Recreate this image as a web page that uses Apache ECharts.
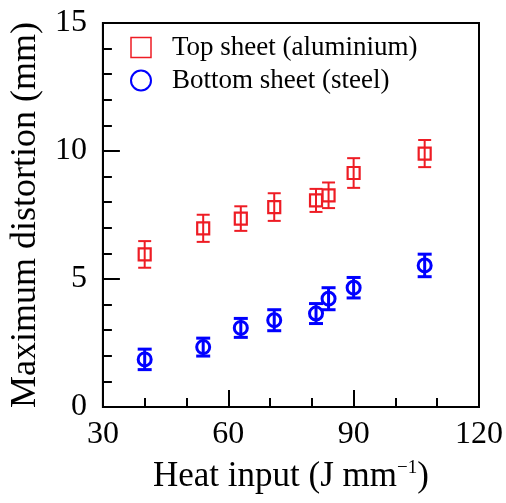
<!DOCTYPE html>
<html>
<head>
<meta charset="utf-8">
<script src="https://cdn.jsdelivr.net/npm/echarts@6/dist/echarts.min.js"></script>
<style>
  html, body { margin: 0; padding: 0; background: #fff; }
  #chart { width: 506px; height: 503px; }
</style>
</head>
<body>
<div id="chart"></div>
<script>
// Heat input (J/mm) for each weld
const heatInput = [40, 54, 63, 71, 81, 84, 90, 107];

// Maximum distortion (mm) and its +/- error, aluminium top sheet
const topSheet = [5.96, 6.98, 7.36, 7.81, 8.07, 8.27, 9.14, 9.90];
const topErr   = [0.52, 0.53, 0.48, 0.54, 0.45, 0.50, 0.58, 0.53];

// Maximum distortion (mm) and its +/- error, steel bottom sheet
const bottomSheet = [1.86, 2.34, 3.09, 3.39, 3.65, 4.23, 4.66, 5.53];
const bottomErr   = [0.40, 0.35, 0.37, 0.41, 0.39, 0.43, 0.40, 0.44];

const xTicks = [30, 60, 90, 120];
const yTicks = [0, 5, 10, 15];

const topName = 'Top sheet (aluminium)';
const bottomName = 'Bottom sheet (steel)';

const RED = '#ee1c24';
const BLUE = '#0000ff';
const FONT = '"Liberation Serif", "Times New Roman", serif';

function pairs(xs, ys) { return xs.map((x, i) => [x, ys[i]]); }
function ranges(xs, ys, es) { return xs.map((x, i) => [x, ys[i] - es[i], ys[i] + es[i]]); }

function errorBars(color, width, halfCap) {
  return function (params, api) {
    const lo = api.coord([api.value(0), api.value(1)]);
    const hi = api.coord([api.value(0), api.value(2)]);
    const st = { stroke: color, lineWidth: width };
    return {
      type: 'group',
      children: [
        { type: 'line', shape: { x1: lo[0], y1: lo[1], x2: hi[0], y2: hi[1] }, style: st },
        { type: 'line', shape: { x1: lo[0] - halfCap, y1: lo[1], x2: lo[0] + halfCap, y2: lo[1] }, style: st },
        { type: 'line', shape: { x1: hi[0] - halfCap, y1: hi[1], x2: hi[0] + halfCap, y2: hi[1] }, style: st }
      ]
    };
  };
}

const chart = echarts.init(document.getElementById('chart'), null, { renderer: 'canvas' });

chart.setOption({
  animation: false,
  backgroundColor: '#fff',
  grid: {
    left: 96, right: 26, top: 23, bottom: 96,
    show: true, borderColor: '#000', borderWidth: 2, backgroundColor: 'transparent'
  },
  legend: {
    orient: 'vertical',
    left: 125, top: 29,
    itemWidth: 20, itemHeight: 20, itemGap: 6,
    selectedMode: false,
    textStyle: { fontFamily: FONT, fontSize: 27, color: '#000', padding: [0, 0, 0, 16] },
    data: [
      { name: topName, icon: 'rect', itemStyle: { color: 'rgba(0,0,0,0)', borderColor: RED, borderWidth: 1.5 } },
      { name: bottomName, icon: 'circle', itemStyle: { color: 'rgba(0,0,0,0)', borderColor: BLUE, borderWidth: 2 } }
    ]
  },
  xAxis: {
    type: 'value',
    min: xTicks[0], max: xTicks[xTicks.length - 1], interval: xTicks[1] - xTicks[0],
    name: 'Heat input (J mm{sup|−1})',
    nameLocation: 'middle',
    nameGap: 52,
    nameTextStyle: {
      fontFamily: FONT, fontSize: 35, color: '#000',
      rich: { sup: { fontFamily: FONT, fontSize: 19, color: '#000', padding: [0, 0, 16, 0] } }
    },
    axisLine: { show: true, onZero: false, lineStyle: { color: '#000', width: 2 } },
    axisTick: { show: true, inside: true, length: 17, lineStyle: { color: '#000', width: 2 } },
    minorTick: { show: true, splitNumber: 3, length: 9, lineStyle: { color: '#000', width: 2 } },
    axisLabel: { fontFamily: FONT, fontSize: 32, color: '#000', margin: 12 },
    splitLine: { show: false }
  },
  yAxis: {
    type: 'value',
    min: yTicks[0], max: yTicks[yTicks.length - 1], interval: yTicks[1] - yTicks[0],
    name: 'Maximum distortion (mm)',
    nameLocation: 'middle',
    nameGap: 50,
    nameTextStyle: { fontFamily: FONT, fontSize: 36, color: '#000' },
    axisLine: { show: true, onZero: false, lineStyle: { color: '#000', width: 2 } },
    axisTick: { show: true, inside: true, length: 17, lineStyle: { color: '#000', width: 2 } },
    minorTick: { show: true, splitNumber: 5, length: 9, lineStyle: { color: '#000', width: 2 } },
    axisLabel: { fontFamily: FONT, fontSize: 32, color: '#000', margin: 16 },
    splitLine: { show: false }
  },
  series: [
    {
      name: topName + ' error',
      type: 'custom',
      renderItem: errorBars(RED, 2, 6.5),
      encode: { x: 0, y: [1, 2] },
      data: ranges(heatInput, topSheet, topErr),
      z: 3
    },
    {
      name: bottomName + ' error',
      type: 'custom',
      renderItem: errorBars(BLUE, 3, 7),
      encode: { x: 0, y: [1, 2] },
      data: ranges(heatInput, bottomSheet, bottomErr),
      z: 3
    },
    {
      name: topName,
      type: 'scatter',
      symbol: 'rect',
      symbolSize: 12,
      itemStyle: { color: 'rgba(0,0,0,0)', borderColor: RED, borderWidth: 2.2, opacity: 1 },
      data: pairs(heatInput, topSheet),
      z: 4
    },
    {
      name: bottomName,
      type: 'scatter',
      symbol: 'circle',
      symbolSize: 13,
      itemStyle: { color: 'rgba(0,0,0,0)', borderColor: BLUE, borderWidth: 3, opacity: 1 },
      data: pairs(heatInput, bottomSheet),
      z: 4
    }
  ]
});
</script>
</body>
</html>
